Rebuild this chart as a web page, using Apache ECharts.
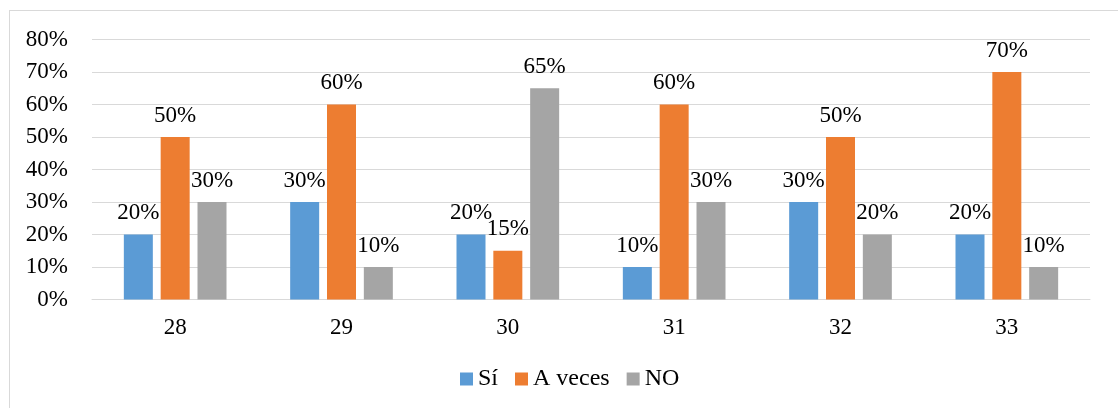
<!DOCTYPE html>
<html>
<head>
<meta charset="utf-8">
<script src="https://cdn.jsdelivr.net/npm/echarts@6/dist/echarts.min.js"></script>
<style>
  html, body { margin: 0; padding: 0; background: #fff; }
  #frame { position: absolute; left: 9px; top: 10px; width: 1120px; height: 410px; border: 1px solid #d9d9d9; box-sizing: border-box; }
  #chart { position: absolute; left: 0; top: 0; width: 1118px; height: 408px; }
</style>
</head>
<body>
<div id="frame"></div>
<div id="chart"></div>
<script>
// Question numbers and answer shares (%)
const categories = ['28', '29', '30', '31', '32', '33'];
const si = [20, 30, 20, 10, 30, 20];
const aVeces = [50, 60, 15, 60, 50, 70];
const no = [30, 10, 65, 30, 20, 10];
const yTicks = [0, 10, 20, 30, 40, 50, 60, 70, 80];

const font = '"Liberation Serif", "Times New Roman", serif';

function barSeries(name, data, color) {
  return {
    name: name,
    type: 'bar',
    data: data,
    barWidth: 29,
    barGap: '27%',
    itemStyle: { color: color },
    label: {
      show: true,
      position: 'top',
      distance: 10,
      formatter: p => p.value + '%',
      color: '#000',
      fontFamily: font,
      fontSize: 23
    }
  };
}

const chart = echarts.init(document.getElementById('chart'), null, { renderer: 'canvas' });
chart.setOption({
  animation: false,
  backgroundColor: 'transparent',
  grid: { left: 92, right: 28, top: 39.5, bottom: 108.5, containLabel: false },
  legend: {
    bottom: 12,
    left: 455,
    itemWidth: 13,
    itemHeight: 13,
    itemGap: 17,
    icon: 'rect',
    textStyle: { fontFamily: font, fontSize: 24, color: '#000' },
    data: ['Sí', 'A veces', 'NO']
  },
  xAxis: {
    type: 'category',
    data: categories,
    axisLine: { show: true, lineStyle: { color: '#d9d9d9', width: 1 } },
    axisTick: { show: false },
    axisLabel: { color: '#000', fontFamily: font, fontSize: 23, margin: 17 }
  },
  yAxis: {
    type: 'value',
    min: yTicks[0],
    max: yTicks[yTicks.length - 1],
    interval: 10,
    axisLine: { show: false },
    axisTick: { show: false },
    splitLine: { lineStyle: { color: '#d9d9d9', width: 1 } },
    axisLabel: { color: '#000', fontFamily: font, fontSize: 23, margin: 24, formatter: v => v + '%' }
  },
  series: [
    barSeries('Sí', si, '#5b9bd5'),
    barSeries('A veces', aVeces, '#ed7d31'),
    barSeries('NO', no, '#a5a5a5')
  ]
});
</script>
</body>
</html>
